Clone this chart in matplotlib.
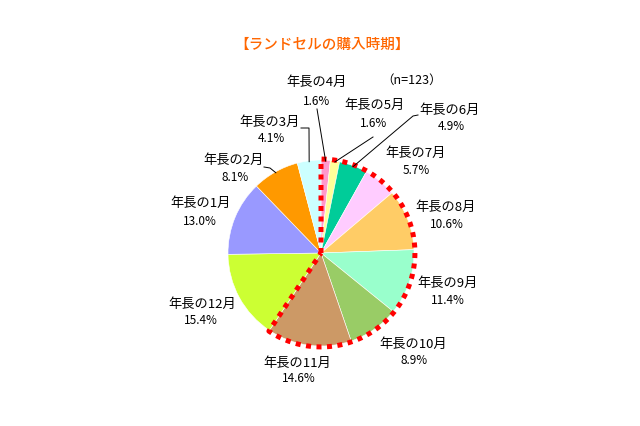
import numpy as np
import matplotlib
matplotlib.use("Agg")
from matplotlib import pyplot as plt

plt.rcParams['font.family'] = ['Noto Sans CJK JP', 'DejaVu Sans']

# データ（年長の4月から時計回り）
meses = ["年長の4月", "年長の5月", "年長の6月", "年長の7月", "年長の8月", "年長の9月",
         "年長の10月", "年長の11月", "年長の12月", "年長の1月", "年長の2月", "年長の3月"]
porcentajes = [1.6, 1.6, 4.9, 5.7, 10.6, 11.4, 8.9, 14.6, 15.4, 13.0, 8.1, 4.1]
colores = ["#FF99CC", "#FFFF99", "#00CC99", "#FFCCFF", "#FFCC66", "#99FFCC",
           "#99CC66", "#CC9966", "#CCFF33", "#9999FF", "#FF9900", "#CCFFFF"]
titulo = "【ランドセルの購入時期】"
n_texto = "（n=123）"
n_resaltado = 8  # 4月〜11月を赤い点線で囲む

# 円の中心と半径（ピクセル）
CX, CY, R = 321, 253, 93


def px(x, y):
    # ピクセル座標 -> データ座標
    return (x - CX) / R, (CY - y) / R


fig = plt.figure(figsize=(6.4, 4.26), dpi=100)
ax = fig.add_axes([(CX - R) / 640, (426 - CY - R) / 426, 2 * R / 640, 2 * R / 426])
wedges, _ = ax.pie(porcentajes, colors=colores, startangle=90, counterclock=False,
                   radius=1, wedgeprops=dict(edgecolor="white", linewidth=0.4))
ax.set_xlim(-1, 1)
ax.set_ylim(-1, 1)
ax.axis("off")

# 赤い点線
total = sum(porcentajes)
fin = 90 - 360 * sum(porcentajes[:n_resaltado]) / total
ang = np.radians(np.linspace(90, fin, 300))
rr = 1.01
xs = np.concatenate([[0, 0], rr * np.cos(ang), [0]])
ys = np.concatenate([[0, rr], rr * np.sin(ang), [0]])
ax.plot(xs, ys, color="#FF0000", lw=3.6, linestyle=(0, (1, 1.1)), clip_on=False,
        solid_capstyle="butt")

# ラベル位置（ピクセル）
pos_nombre = [(317, 82), (374, 105), (450, 110), (416, 153), (446, 207), (448, 283),
              (413, 344), (297, 363), (202, 304), (201, 203), (234, 160), (270, 122)]
pos_pct = [(317, 101), (374, 123), (451, 126), (416, 170), (447, 224), (448, 300),
           (414, 360), (299, 378), (201, 321), (200, 221), (235, 177), (271, 138)]

for i in range(len(meses)):
    x, y = px(*pos_nombre[i])
    ax.text(x, y, meses[i], ha="center", va="center", fontsize=9.5, clip_on=False)
    x, y = px(*pos_pct[i])
    ax.text(x, y, "%.1f%%" % porcentajes[i], ha="center", va="center", fontsize=8.5,
            clip_on=False)


def punto_borde(w, r=1.0):
    a = np.radians((w.theta1 + w.theta2) / 2)
    return r * np.cos(a), r * np.sin(a)


# 引き出し線
lineas = {0: [(317, 109)], 1: [(373, 137)], 2: [(418, 115), (413, 116)],
          10: [(264, 167), (270, 168)], 11: [(301, 128), (309, 128)]}
for i, pts in lineas.items():
    pp = [px(*p) for p in pts] + [punto_borde(wedges[i], 0.99)]
    ax.plot([p[0] for p in pp], [p[1] for p in pp], color="black", lw=0.7,
            clip_on=False)

fig.text(322 / 640, 1 - 45 / 426, titulo, ha="center", va="center", fontsize=10.5,
         color="#FF6600", fontweight="medium")
fig.text(412 / 640, 1 - 80 / 426, n_texto, ha="center", va="center", fontsize=9)

fig.savefig("out.png", dpi=100)
